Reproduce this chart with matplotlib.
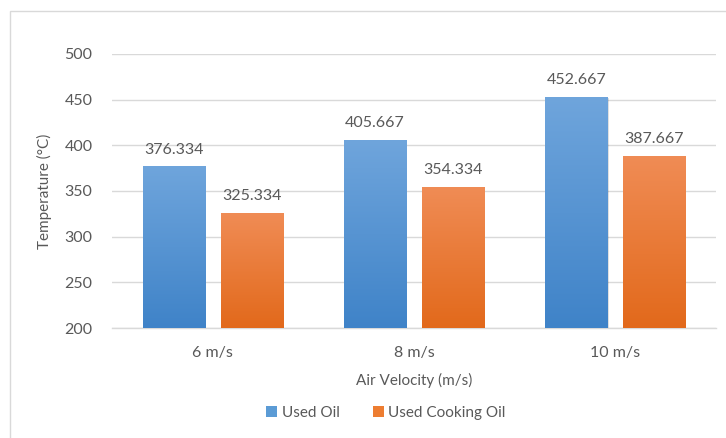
import numpy as np
from matplotlib import pyplot as plt
from matplotlib.patches import Rectangle
from matplotlib.colors import LinearSegmentedColormap

categories = ['6 m/s', '8 m/s', '10 m/s']
series_names = ['Used Oil', 'Used Cooking Oil']
used_oil = [376.334, 405.667, 452.667]
used_cooking_oil = [325.334, 354.334, 387.667]
y_ticks = [200, 250, 300, 350, 400, 450, 500]

plt.rcParams['font.family'] = ['Lato', 'DejaVu Sans']
text_color = '#595959'
grid_color = '#D9D9D9'

# (top colour, bottom colour) for the vertical bar gradient
gradients = [('#6FA5DC', '#3F83C8'), ('#F08C55', '#E2691B')]
legend_colors = ['#5B9BD5', '#ED7D31']

W, H, dpi = 726, 438, 100
fig = plt.figure(figsize=(W / dpi, H / dpi), dpi=dpi)

# outer chart frame
fig.patches.append(Rectangle((10 / W, -0.1), 1.2, (438 - 11) / H + 0.1, transform=fig.transFigure,
                             fill=False, edgecolor=grid_color, linewidth=1.0))

ax = fig.add_axes([112 / W, (H - 328) / H, (716 - 112) / W, (328 - 54) / H])
ax.set_xlim(-0.5, len(categories) - 0.5)
ax.set_ylim(y_ticks[0], y_ticks[-1])

for spine in ['top', 'right', 'left']:
    ax.spines[spine].set_visible(False)
ax.spines['bottom'].set_color(grid_color)
ax.spines['bottom'].set_linewidth(1.0)

ax.set_yticks(y_ticks)
ax.yaxis.grid(True, color=grid_color, linewidth=1.0)
ax.set_axisbelow(True)
ax.tick_params(axis='y', length=0, pad=14, labelsize=11.5, labelcolor=text_color)
ax.set_xticks(range(len(categories)))
ax.set_xticklabels(categories)
ax.tick_params(axis='x', length=0, pad=13, labelsize=11.5, labelcolor=text_color)

bar_width = 0.308
offsets = [-0.193, 0.193]
x = np.arange(len(categories))

for values, offset, (top, bottom) in zip([used_oil, used_cooking_oil], offsets, gradients):
    cmap = LinearSegmentedColormap.from_list('bar', [bottom, top])
    grad = np.linspace(0, 1, 256).reshape(-1, 1)
    for xi, v in zip(x + offset, values):
        left = xi - bar_width / 2
        # soft drop shadow
        ax.add_patch(Rectangle((left + 0.006, y_ticks[0]), bar_width, v - y_ticks[0] - 1.0,
                               facecolor='#000000', alpha=0.12, edgecolor='none', zorder=2))
        ax.imshow(grad, cmap=cmap, origin='lower', aspect='auto', interpolation='bilinear',
                  extent=(left, left + bar_width, y_ticks[0], v), zorder=3)
        ax.annotate(f'{v:.3f}', (xi, v), xytext=(0, 9.5), textcoords='offset points',
                    ha='center', va='baseline', fontsize=11.5, color=text_color)

ax.set_xlim(-0.5, len(categories) - 0.5)
ax.set_ylim(y_ticks[0], y_ticks[-1])

ax.set_ylabel('Temperature (°C)', fontsize=11, color=text_color, labelpad=9)
ax.set_xlabel('Air Velocity (m/s)', fontsize=11, color=text_color, labelpad=9)

handles = [Rectangle((0, 0), 1, 1, facecolor=c, edgecolor='none') for c in legend_colors]
fig.legend(handles, series_names, loc='center', bbox_to_anchor=(386 / W, 1 - 413 / H), ncol=2,
           frameon=False, fontsize=11, labelcolor=text_color, handlelength=0.7, handleheight=0.7,
           handletextpad=0.3, columnspacing=2.2)

fig.savefig('out.png', dpi=dpi)
